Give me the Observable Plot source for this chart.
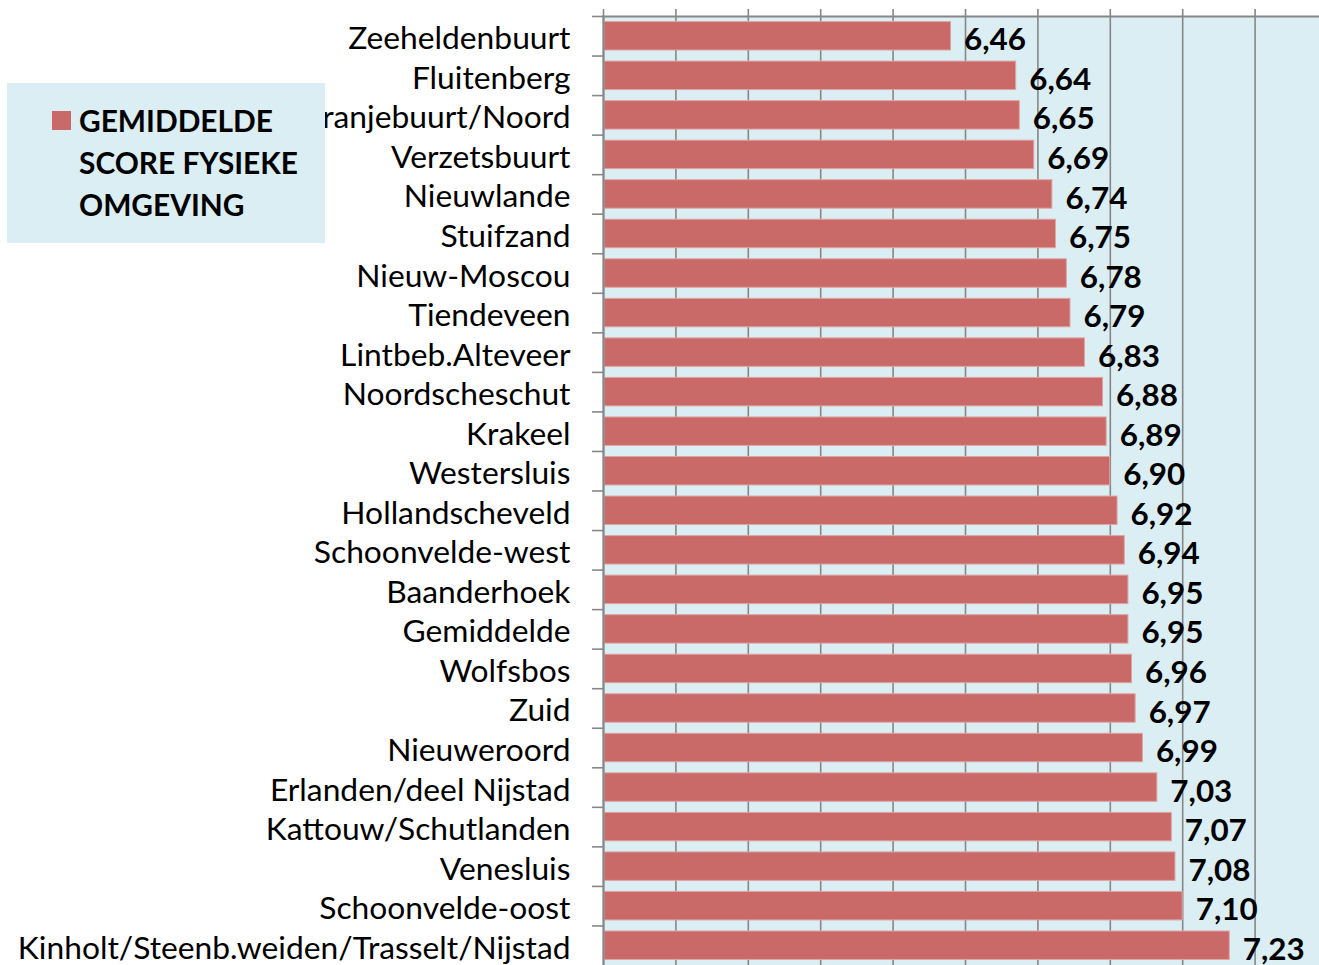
<!DOCTYPE html>
<html>
<head>
<meta charset="utf-8">
<script src="https://cdn.jsdelivr.net/npm/d3@7"></script>
<script src="https://cdn.jsdelivr.net/npm/@observablehq/plot@0.6"></script>
<style>
  html, body { margin: 0; padding: 0; background: #ffffff; overflow: hidden; }
  #wrap { position: relative; width: 1319px; height: 965px; overflow: hidden; }
  #wrap > svg { display: block; overflow: hidden; }
  #legend { position: absolute; left: 7px; top: 83px; width: 318px; height: 160px; background: #DBEEF3; }
  #legend svg { display: block; overflow: visible; }
</style>
</head>
<body>
<div id="wrap"></div>
<script>
// ---- data ----
const neighbourhoods = [
  "Zeeheldenbuurt", "Fluitenberg", "Oranjebuurt/Noord", "Verzetsbuurt", "Nieuwlande",
  "Stuifzand", "Nieuw-Moscou", "Tiendeveen", "Lintbeb.Alteveer", "Noordscheschut",
  "Krakeel", "Westersluis", "Hollandscheveld", "Schoonvelde-west", "Baanderhoek",
  "Gemiddelde", "Wolfsbos", "Zuid", "Nieuweroord", "Erlanden/deel Nijstad",
  "Kattouw/Schutlanden", "Venesluis", "Schoonvelde-oost", "Kinholt/Steenb.weiden/Trasselt/Nijstad"
];
const scores = [
  6.46, 6.64, 6.65, 6.69, 6.74,
  6.75, 6.78, 6.79, 6.83, 6.88,
  6.89, 6.90, 6.92, 6.94, 6.95,
  6.95, 6.96, 6.97, 6.99, 7.03,
  7.07, 7.08, 7.10, 7.23
];
const xTicks = [5.5, 5.7, 5.9, 6.1, 6.3, 6.5, 6.7, 6.9, 7.1, 7.3, 7.5];
const legendLines = ["GEMIDDELDE", "SCORE FYSIEKE", "OMGEVING"];

// ---- styling ----
const FONT = "Lato";
const BAR = "#C96A69";
const BG = "#DBEEF3";
const GRID = "#878787";

function fitSize(text, weight, target) {
  const ctx = document.createElement("canvas").getContext("2d");
  ctx.font = `${weight} 100px ${FONT}`;
  return 100 * target / ctx.measureText(text).width;
}
const labelSize = fitSize("Kinholt/Steenb.weiden/Trasselt/Nijstad", "normal", 553);
const valueSize = fitSize("6,46", "bold", 62);
const legendSize = fitSize("GEMIDDELDE", "bold", 194);

const W = 1319, H = 965, TOP = 16, LEFT = 603;
const step = (H - TOP) / neighbourhoods.length;
const pxPerUnit = 362;

const data = neighbourhoods.map((name, i) => ({name, score: scores[i]}));
const fmt = v => v.toFixed(2).replace(".", ",");

const chart = Plot.plot({
  width: W,
  height: H,
  marginTop: TOP,
  marginLeft: LEFT,
  marginRight: 0,
  marginBottom: 0,
  style: {fontFamily: FONT, background: "transparent", color: "#000"},
  x: {domain: [5.5, 7.5], range: [LEFT, LEFT + 2 * pxPerUnit], label: null},
  y: {domain: neighbourhoods, paddingInner: 0.28, paddingOuter: 0.14, round: false, label: null},
  marks: [
    Plot.frame({fill: BG, stroke: null}),
    Plot.gridX(xTicks, {stroke: GRID, strokeOpacity: 1, strokeWidth: 1.6}),
    Plot.axisX({anchor: "top", ticks: xTicks, tickSize: 8, tickFormat: () => "", label: null, stroke: GRID, strokeWidth: 1.6}),
    Plot.barX(data, {
      y: "name", x1: () => 5.5, x2: "score",
      fill: BAR, stroke: "#E0A4A3", strokeWidth: 1, insetLeft: 1
    }),
    Plot.frame({anchor: "top", stroke: GRID, strokeWidth: 2}),
    Plot.frame({anchor: "left", stroke: GRID, strokeWidth: 2}),
    Plot.ruleY(neighbourhoods, {
      y: d => d, x1: () => 5.5 - 11 / pxPerUnit, x2: () => 5.5,
      dy: -step / 2, stroke: GRID, strokeWidth: 1.6
    }),
    Plot.axisY({
      anchor: "left", tickSize: 0, tickPadding: 33, label: null,
      fontSize: labelSize, dy: 1.6 + 0.0385 * labelSize, fill: "#000"
    }),
    Plot.text(data, {
      y: "name", x: "score", text: d => fmt(d.score),
      textAnchor: "start", dx: 13, dy: 2.8 + 0.0385 * valueSize,
      fontWeight: "bold", fontSize: valueSize, fill: "#000"
    })
  ]
});
document.getElementById("wrap").appendChild(chart);

// ---- legend (overlay, as in the reference) ----
const legend = d3.select("#wrap").append("div").attr("id", "legend");
const lsvg = legend.append("svg").attr("width", 318).attr("height", 160);
lsvg.append("rect").attr("x", 45).attr("y", 28).attr("width", 19).attr("height", 19).attr("fill", BAR);
lsvg.selectAll("text").data(legendLines).join("text")
  .attr("x", 72)
  .attr("y", (d, i) => 48.5 + i * 42)
  .attr("font-family", FONT)
  .attr("font-weight", "bold")
  .attr("font-size", legendSize)
  .attr("fill", "#000")
  .text(d => d);
</script>
</body>
</html>
